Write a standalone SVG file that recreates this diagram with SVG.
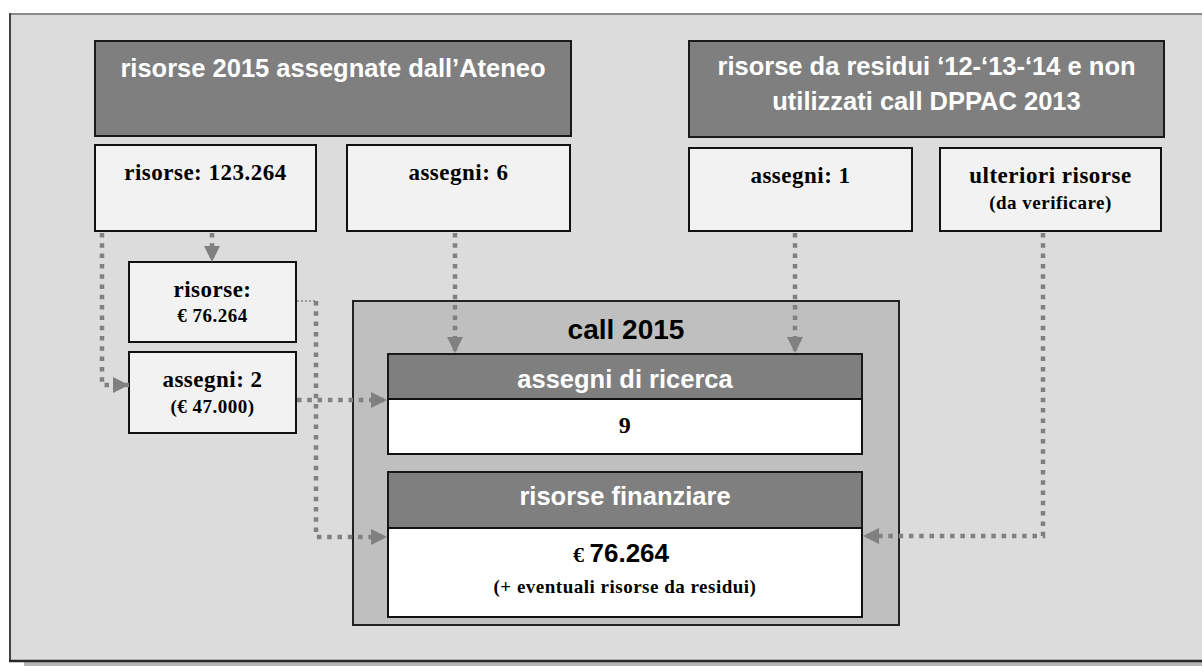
<svg xmlns="http://www.w3.org/2000/svg" width="1202" height="666" viewBox="0 0 1202 666">
<defs>
<style>
.hdr{fill:#7f7f7f;stroke:#1a1a1a;stroke-width:2}
.sub{fill:#f2f2f2;stroke:#111;stroke-width:2}
.wht{fill:#ffffff;stroke:#111;stroke-width:2}
.call{fill:#bfbfbf;stroke:#222;stroke-width:2}
.ht{font-family:"Liberation Sans",Arial,sans-serif;font-weight:bold;font-size:25.5px;fill:#ffffff;text-anchor:middle}
.ct{font-family:"Liberation Sans",Arial,sans-serif;font-weight:bold;font-size:28px;fill:#000;text-anchor:middle}
.st{font-family:"Liberation Serif","Times New Roman",serif;font-weight:bold;font-size:23px;letter-spacing:0.5px;fill:#000;text-anchor:middle}
.ss{font-family:"Liberation Serif","Times New Roman",serif;font-weight:bold;font-size:19px;letter-spacing:0.5px;fill:#000;text-anchor:middle}
.dot{fill:none;stroke:#808080;stroke-width:4.5;stroke-dasharray:4.5 5.8}
.thin{fill:none;stroke:#999;stroke-width:2;stroke-dasharray:2 2}
</style>
<marker id="arr" markerUnits="userSpaceOnUse" markerWidth="16" markerHeight="16" viewBox="0 0 16 16" refX="16" refY="8" orient="auto">
<path d="M0,0 L16,8 L0,16 Z" fill="#808080"/>
</marker>
</defs>
<g id="frame">
<rect x="24" y="661" width="1178" height="5" fill="#b5b5b5"/>
<rect x="10" y="14" width="1200" height="647" fill="#dcdcdc"/>
<line x1="10" y1="14" x2="1202" y2="14" stroke="#8a8a8a" stroke-width="2"/>
<line x1="10" y1="13" x2="10" y2="662" stroke="#444" stroke-width="2"/>
<line x1="9" y1="661" x2="1202" y2="661" stroke="#2a2a2a" stroke-width="2.5"/>
</g>
<g id="hdr1">
<rect class="hdr" x="95" y="41" width="476" height="95"/>
<text class="ht" x="333" y="77">risorse 2015 assegnate dall’Ateneo</text>
</g>
<g id="hdr2">
<rect class="hdr" x="689" y="41" width="475" height="96"/>
<text class="ht" x="926.5" y="75">risorse da residui ‘12-‘13-‘14 e non</text>
<text class="ht" x="926.5" y="110">utilizzati call DPPAC 2013</text>
</g>
<g id="b-risorse123">
<rect class="sub" x="95" y="145" width="221" height="86"/>
<text class="st" x="205.5" y="180">risorse: 123.264</text>
</g>
<g id="b-assegni6">
<rect class="sub" x="347" y="145" width="223" height="86"/>
<text class="st" x="458.5" y="180">assegni: 6</text>
</g>
<g id="b-assegni1">
<rect class="sub" x="689" y="148" width="223" height="83"/>
<text class="st" x="800.5" y="183">assegni: 1</text>
</g>
<g id="b-ulteriori">
<rect class="sub" x="940" y="148" width="221" height="83"/>
<text class="st" x="1050.5" y="183">ulteriori risorse</text>
<text class="ss" x="1050.5" y="209">(da verificare)</text>
</g>
<g id="b-risorse76">
<rect class="sub" x="129" y="262" width="167" height="80"/>
<text class="st" x="212.5" y="297">risorse:</text>
<text class="ss" x="212.5" y="322">€ 76.264</text>
</g>
<g id="b-assegni2">
<rect class="sub" x="129" y="352" width="167" height="81"/>
<text class="st" x="212.5" y="387">assegni: 2</text>
<text class="ss" x="212.5" y="413">(€ 47.000)</text>
</g>
<g id="call2015">
<rect class="call" x="353" y="301" width="546" height="324"/>
<text class="ct" x="626" y="339">call 2015</text>
</g>
<g id="assegni-ricerca">
<rect class="hdr" x="388" y="354" width="474" height="45"/>
<text class="ht" x="625" y="388">assegni di ricerca</text>
<rect class="wht" x="388" y="399" width="474" height="55"/>
<text class="st" x="625" y="433" style="font-size:24px">9</text>
</g>
<g id="risorse-finanziare">
<rect class="hdr" x="388" y="472" width="474" height="56"/>
<text class="ht" x="625" y="505">risorse finanziare</text>
<rect class="wht" x="388" y="528" width="474" height="89"/>
<text x="621" y="562" text-anchor="middle" style="font-family:'Liberation Sans',Arial,sans-serif;font-weight:bold;font-size:26px;fill:#000"><tspan style="font-family:'Liberation Serif','Times New Roman',serif;font-size:22px">€ </tspan>76.264</text>
<text class="ss" x="625" y="593">(+ eventuali risorse da residui)</text>
</g>
<g id="connectors">
<path class="dot" d="M102,233 V385 H129" marker-end="url(#arr)"/>
<path class="dot" d="M212,233 V262" marker-end="url(#arr)"/>
<path class="thin" d="M297,301 H316"/>
<path class="dot" d="M316,301 V537 H387" marker-end="url(#arr)"/>
<path class="dot" d="M297,400 H387" marker-end="url(#arr)"/>
<path class="dot" d="M455,233 V353" marker-end="url(#arr)"/>
<path class="dot" d="M795,233 V353" marker-end="url(#arr)"/>
<path class="dot" d="M1043,233 V536 H863" marker-end="url(#arr)"/>
</g>
</svg>
